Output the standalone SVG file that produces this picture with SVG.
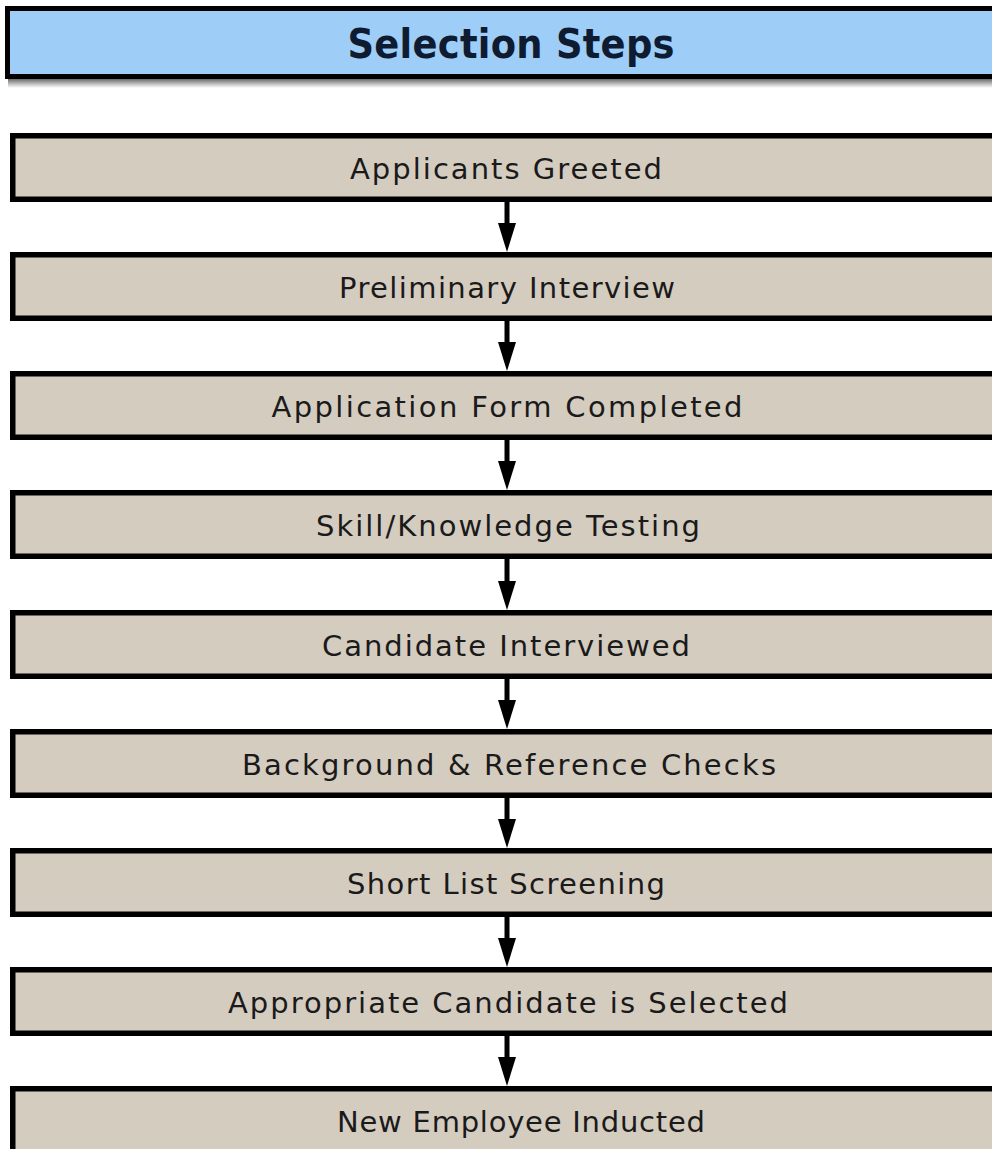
<svg xmlns="http://www.w3.org/2000/svg" width="992" height="1149" viewBox="0 0 992 1149">
<defs>
<linearGradient id="shadow" x1="0" y1="0" x2="0" y2="1">
<stop offset="0" stop-color="#6a6a6a"/>
<stop offset="0.5" stop-color="#b8b8b8"/>
<stop offset="1" stop-color="#ffffff"/>
</linearGradient>
</defs>
<style>
.box{fill:#d5ccc0;stroke:#000;stroke-width:5.5}
.lbl{font-family:"DejaVu Sans","Liberation Sans",sans-serif;font-size:29px;fill:#1a1a1a;text-anchor:middle}
.title{font-family:"DejaVu Sans Condensed","DejaVu Sans","Liberation Sans",sans-serif;font-weight:bold;font-size:41px;fill:#0f1b30;text-anchor:middle}
.conn line{stroke:#000;stroke-width:5}
.conn polygon{fill:#000}
</style>
<rect x="0" y="0" width="992" height="1149" fill="#ffffff"/>
<g id="title">
<rect x="8" y="79" width="990" height="9" fill="url(#shadow)"/>
<rect x="7.5" y="8.5" width="1000" height="68" fill="#9ecdf7" stroke="#000" stroke-width="5"/>
<text class="title" x="511" y="58" textLength="327">Selection Steps</text>
</g>
<g id="n1"><rect class="box" x="12.75" y="135.75" width="1000" height="63.5"/><text class="lbl" x="506" y="179" textLength="312">Applicants Greeted</text></g>
<g id="n2"><rect class="box" x="12.75" y="254.75" width="1000" height="63.5"/><text class="lbl" x="507" y="298" textLength="336">Preliminary Interview</text></g>
<g id="n3"><rect class="box" x="12.75" y="373.75" width="1000" height="63.5"/><text class="lbl" x="507" y="417" textLength="471">Application Form Completed</text></g>
<g id="n4"><rect class="box" x="12.75" y="492.75" width="1000" height="63.5"/><text class="lbl" x="508" y="536" textLength="384">Skill/Knowledge Testing</text></g>
<g id="n5"><rect class="box" x="12.75" y="612.75" width="1000" height="63.5"/><text class="lbl" x="506" y="656" textLength="368">Candidate Interviewed</text></g>
<g id="n6"><rect class="box" x="12.75" y="731.75" width="1000" height="63.5"/><text class="lbl" x="509" y="775" textLength="534">Background &amp; Reference Checks</text></g>
<g id="n7"><rect class="box" x="12.75" y="850.75" width="1000" height="63.5"/><text class="lbl" x="506" y="894" textLength="318">Short List Screening</text></g>
<g id="n8"><rect class="box" x="12.75" y="969.75" width="1000" height="63.5"/><text class="lbl" x="508" y="1013" textLength="560">Appropriate Candidate is Selected</text></g>
<g id="n9"><rect class="box" x="12.75" y="1088.75" width="1000" height="63.5"/><text class="lbl" x="521" y="1132" textLength="368">New Employee Inducted</text></g>
<g id="connectors" class="conn">
<line x1="507" y1="202" x2="507" y2="225"/><polygon points="498,223 516,223 507,252"/>
<line x1="507" y1="321" x2="507" y2="344"/><polygon points="498,342 516,342 507,371"/>
<line x1="507" y1="440" x2="507" y2="463"/><polygon points="498,461 516,461 507,490"/>
<line x1="507" y1="559" x2="507" y2="583"/><polygon points="498,581 516,581 507,610"/>
<line x1="507" y1="679" x2="507" y2="702"/><polygon points="498,700 516,700 507,729"/>
<line x1="507" y1="798" x2="507" y2="821"/><polygon points="498,819 516,819 507,848"/>
<line x1="507" y1="917" x2="507" y2="940"/><polygon points="498,938 516,938 507,967"/>
<line x1="507" y1="1036" x2="507" y2="1059"/><polygon points="498,1057 516,1057 507,1086"/>
</g>
</svg>
